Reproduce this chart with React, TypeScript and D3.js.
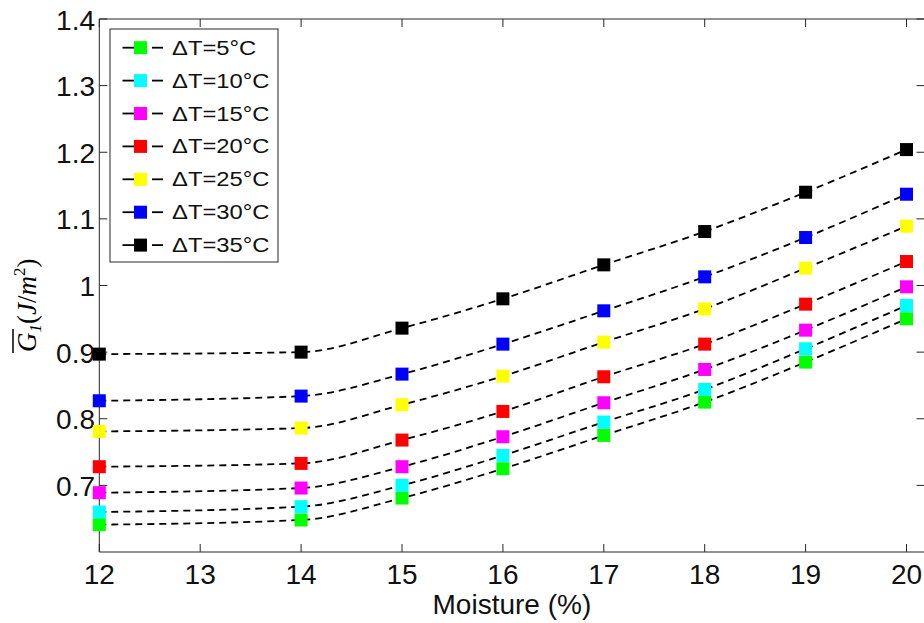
import React from "react";
import * as d3 from "d3";

const moisture = [12, 14, 15, 16, 17, 18, 19, 20];
const seriesNames = ["ΔT=5°C", "ΔT=10°C", "ΔT=15°C", "ΔT=20°C", "ΔT=25°C", "ΔT=30°C", "ΔT=35°C"];
const seriesColors = ["#00ff00", "#00ffff", "#ff00ff", "#ff0000", "#ffff00", "#0000ff", "#000000"];
const dT5 = [0.641, 0.648, 0.681, 0.725, 0.775, 0.825, 0.885, 0.95];
const dT10 = [0.66, 0.668, 0.7, 0.745, 0.795, 0.844, 0.905, 0.97];
const dT15 = [0.689, 0.696, 0.728, 0.773, 0.824, 0.874, 0.933, 0.998];
const dT20 = [0.728, 0.733, 0.768, 0.811, 0.863, 0.912, 0.972, 1.036];
const dT25 = [0.781, 0.786, 0.821, 0.864, 0.915, 0.965, 1.026, 1.089];
const dT30 = [0.827, 0.834, 0.867, 0.912, 0.962, 1.013, 1.072, 1.137];
const dT35 = [0.897, 0.9, 0.936, 0.98, 1.031, 1.081, 1.14, 1.204];
const seriesValues = [dT5, dT10, dT15, dT20, dT25, dT30, dT35];
const xTicks = [12, 13, 14, 15, 16, 17, 18, 19, 20];
const yTicks = [0.7, 0.8, 0.9, 1.0, 1.1, 1.2, 1.3, 1.4];

const W = 924, H = 623;
const L = 99.3, R = 924.5, T = 19, B = 552;

export default function App() {
  const x = d3.scaleLinear().domain([12, 20]).range([L, L + 8 * 100.9]);
  const y = d3.scaleLinear().domain([0.6, 1.4]).range([B, T]);
  const line = d3.line<[number, number]>().x(d => x(d[0])).y(d => y(d[1])).curve(d3.curveMonotoneX);
  const ms = 13;
  const axisColor = "#262626";
  const font = "'Liberation Sans', Arial, sans-serif";
  const legendY0 = 47.7, legendDy = 32.9;
  return (
    <svg width={W} height={H} style={{ position: "absolute", left: 0, top: 0, background: "#fff" }}>
      <rect x={0} y={0} width={W} height={H} fill="#fff" />
      {/* axes box */}
      <line x1={L} x2={R} y1={T} y2={T} stroke={axisColor} strokeWidth={1} />
      <line x1={L} x2={R} y1={B} y2={B} stroke={axisColor} strokeWidth={1} />
      <line x1={L} x2={L} y1={T} y2={B} stroke={axisColor} strokeWidth={1} />
      <line x1={R} x2={R} y1={T} y2={B} stroke={axisColor} strokeWidth={1} />
      {xTicks.map(t => (
        <g key={"xt" + t}>
          <line x1={x(t)} x2={x(t)} y1={B} y2={B - 8} stroke={axisColor} />
          <line x1={x(t)} x2={x(t)} y1={T} y2={T + 8} stroke={axisColor} />
          <text x={x(t)} y={584} textAnchor="middle" fontFamily={font} fontSize={28} fill="#111">{t}</text>
        </g>
      ))}
      {yTicks.map(t => (
        <g key={"yt" + t}>
          <line x1={L} x2={L + 8} y1={y(t)} y2={y(t)} stroke={axisColor} />
          <line x1={R} x2={R - 8} y1={y(t)} y2={y(t)} stroke={axisColor} />
          <text x={95} y={y(t) + 10.5} textAnchor="end" fontFamily={font} fontSize={28} fill="#111">{d3.format("~g")(+t.toFixed(1))}</text>
        </g>
      ))}
      <text x={(L + R) / 2} y={614} textAnchor="middle" fontFamily={font} fontSize={28} fill="#111">Moisture (%)</text>
      {/* y label */}
      <g transform="translate(36,352) rotate(-90)">
        <line x1={-1} x2={23} y1={-23} y2={-23} stroke="#000" strokeWidth={1.5} />
        <text x={0} y={0} fontFamily="'Liberation Serif', 'DejaVu Serif', serif" fontSize={27} fill="#000">
          <tspan fontStyle="italic">G</tspan>
          <tspan fontStyle="italic" fontSize={17} dy={5}>1</tspan>
          <tspan dy={-5}>(</tspan>
          <tspan fontStyle="italic">J</tspan>
          <tspan>/</tspan>
          <tspan fontStyle="italic">m</tspan>
          <tspan fontSize={17} dy={-11}>2</tspan>
          <tspan dy={11}>)</tspan>
        </text>
      </g>
      {/* series */}
      {seriesValues.map((vals, i) => (
        <path key={"l" + i} d={line(moisture.map((m, j) => [m, vals[j]] as [number, number])) || ""} fill="none" stroke="#000" strokeWidth={1.8} strokeDasharray="7,5" />
      ))}
      {seriesValues.map((vals, i) => (
        <g key={"m" + i}>
          {moisture.map((m, j) => (
            <rect key={j} x={x(m) - ms / 2} y={y(vals[j]) - ms / 2} width={ms} height={ms} fill={seriesColors[i]} />
          ))}
        </g>
      ))}
      {/* legend */}
      <rect x={110} y={29} width={168} height={233} fill="#fff" stroke={axisColor} strokeWidth={1} />
      {seriesNames.map((n, i) => {
        const cy = legendY0 + i * legendDy;
        return (
          <g key={"lg" + i}>
            <line x1={122.5} x2={134} y1={cy} y2={cy} stroke="#000" strokeWidth={1.8} />
            <line x1={152} x2={163} y1={cy} y2={cy} stroke="#000" strokeWidth={1.8} />
            <rect x={140.5 - ms / 2} y={cy - ms / 2} width={ms} height={ms} fill={seriesColors[i]} />
            <text transform={`translate(172,${cy + 7}) scale(1.22,1)`} fontFamily={font} fontSize={19.5} fill="#111">{n}</text>
          </g>
        );
      })}
    </svg>
  );
}
